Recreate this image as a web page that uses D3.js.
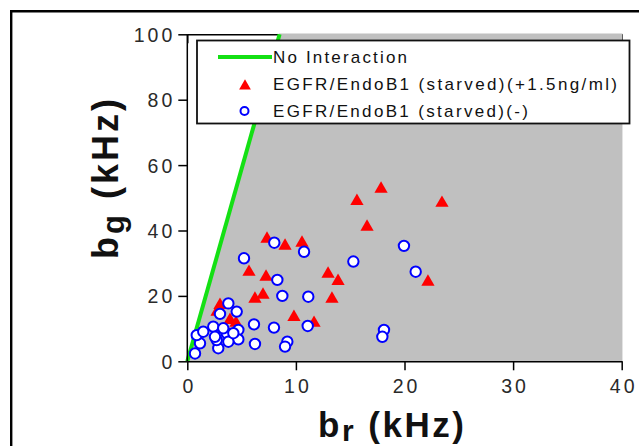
<!DOCTYPE html>
<html>
<head>
<meta charset="utf-8">
<script src="https://cdn.jsdelivr.net/npm/d3@7"></script>
<style>
  html, body { margin: 0; padding: 0; background: #fff; }
  svg { display: block; }
  text { font-family: "Liberation Sans", Arial, sans-serif; }
</style>
</head>
<body>
<svg id="chart" width="639" height="446"></svg>
<script>
// Axis ticks
const xMajorTicks = [0, 10, 20, 30, 40];
const xMinorTicks = [5, 15, 25, 35];
const yMajorTicks = [0, 20, 40, 60, 80, 100];
const yMinorTicks = [10, 30, 50, 70, 90];

// "No Interaction" reference line (b_r, b_g)
const noInteractionX = [0, 8.5];
const noInteractionY = [0, 100];

// EGFR/EndoB1 (starved)(+1.5ng/ml)
const stimX = [17.84, 15.62, 23.45, 16.55, 7.34, 9.0, 10.56, 5.68, 7.25, 12.96, 13.88,
               22.16, 6.23, 6.97, 13.32, 9.82, 11.67, 3.01, 2.74, 3.93, 4.48];
const stimY = [52.7, 49.0, 48.4, 41.1, 37.4, 35.3, 36.2, 27.3, 25.8, 26.7, 24.5,
               24.3, 19.05, 20.3, 19.05, 13.5, 11.7, 17.2, 15.1, 12.6, 11.7];

// EGFR/EndoB1 (starved)(-)
const ctrlX = [8.01, 10.75, 19.95, 5.22, 15.29, 21.03, 8.29, 8.75, 11.14, 3.78, 4.55,
               3.01, 6.14, 7.98, 11.09, 18.11, 17.96, 6.23, 9.21, 9.0, 4.7, 4.7, 3.63,
               3.78, 2.85, 2.71, 2.39, 2.55, 1.17, 0.87, 0.71, 1.47, 3.31, 4.24];
const ctrlY = [36.27, 33.5, 35.3, 31.5, 30.5, 27.4, 24.9, 20.0, 19.75, 17.7, 15.2,
               14.5, 11.3, 10.3, 10.8, 9.6, 7.5, 5.3, 6.0, 4.5, 9.6, 6.7, 8.6,
               6.0, 4.0, 6.5, 10.6, 7.5, 5.5, 8.0, 2.4, 9.05, 10.1, 8.6];

const legendLabels = ["No Interaction", "EGFR/EndoB1 (starved)(+1.5ng/ml)", "EGFR/EndoB1 (starved)(-)"];

const svg = d3.select("#chart");
const x = d3.scaleLinear().domain([0, 40]).range([187.3, 621.7]);
const y = d3.scaleLinear().domain([0, 100]).range([361.3, 34.3]);

// outer frame (left and top edges in view)
svg.append("path")
  .attr("d", "M11.2,446 L11.2,11.2 L639,11.2")
  .attr("fill", "none").attr("stroke", "#000").attr("stroke-width", 2.4);

// mirrored top axis with inward ticks
const topAxis = svg.append("g").attr("transform", `translate(0,${y(100)})`);
topAxis.call(d3.axisTop(x).tickValues(xMinorTicks).tickSize(-5).tickFormat("").tickSizeOuter(0));
topAxis.call(d3.axisTop(x).tickValues(xMajorTicks).tickSize(-9).tickFormat("").tickSizeOuter(0));
topAxis.selectAll("path,line").attr("stroke", "#000").attr("stroke-width", 1.5);

// shaded region right of the no-interaction line
const region = [[noInteractionX[0], noInteractionY[0]], [noInteractionX[1], noInteractionY[1]], [40, 100], [40, 0]];
svg.append("path")
  .attr("d", d3.line().x(d => x(d[0])).y(d => y(d[1]))(region) + "Z")
  .attr("fill", "#c0c0c0").attr("stroke", "#c0c0c0").attr("stroke-width", 1.5);

// no-interaction line
svg.append("path")
  .attr("d", d3.line().x(d => x(d[0])).y(d => y(d[1]))(noInteractionX.map((v, i) => [v, noInteractionY[i]])))
  .attr("fill", "none").attr("stroke", "#14e014").attr("stroke-width", 4);

// bottom axis
const bottom = svg.append("g").attr("transform", `translate(0,${y(0)})`);
bottom.call(d3.axisBottom(x).tickValues(xMinorTicks).tickSize(4.5).tickFormat("").tickSizeOuter(0));
bottom.call(d3.axisBottom(x).tickValues(xMajorTicks).tickSize(9).tickFormat(d3.format("d")).tickSizeOuter(0));
bottom.selectAll("path,line").attr("stroke", "#000").attr("stroke-width", 1.5);
bottom.selectAll("text")
  .attr("y", 32).attr("dy", 0).attr("dx", 1.5)
  .attr("font-size", 19.5).attr("letter-spacing", 3).attr("fill", "#2a2a2a")
  .attr("font-family", "'Liberation Sans', Arial, sans-serif");

// left axis
const left = svg.append("g").attr("transform", `translate(${x(0)},0)`);
left.call(d3.axisLeft(y).tickValues(yMinorTicks).tickSize(4.5).tickFormat("").tickSizeOuter(0));
left.call(d3.axisLeft(y).tickValues(yMajorTicks).tickSize(9).tickFormat(d3.format("d")).tickSizeOuter(0));
left.selectAll("path,line").attr("stroke", "#000").attr("stroke-width", 1.5);
left.selectAll("text")
  .attr("x", -12).attr("dy", "0.36em")
  .attr("font-size", 19.5).attr("letter-spacing", 3).attr("fill", "#2a2a2a")
  .attr("font-family", "'Liberation Sans', Arial, sans-serif");
left.select(".domain").attr("d", `M0,${y(0)}V${y(100)}`);

// data points
const tri = d3.symbol().type(d3.symbolTriangle).size(76);
svg.append("g").selectAll("path")
  .data(stimX.map((v, i) => [v, stimY[i]]))
  .join("path")
  .attr("d", tri)
  .attr("transform", d => `translate(${x(d[0])},${y(d[1])})`)
  .attr("fill", "#ff0000");

svg.append("g").selectAll("circle")
  .data(ctrlX.map((v, i) => [v, ctrlY[i]]))
  .join("circle")
  .attr("cx", d => x(d[0])).attr("cy", d => y(d[1])).attr("r", 5.2)
  .attr("fill", "#fff").attr("stroke", "#0000ff").attr("stroke-width", 2);

// legend
const lg = svg.append("g");
lg.append("rect").attr("x", 197).attr("y", 40.5).attr("width", 432.5).attr("height", 83)
  .attr("fill", "#fff").attr("stroke", "#111").attr("stroke-width", 1.8);
lg.append("line").attr("x1", 218).attr("x2", 272).attr("y1", 57).attr("y2", 57)
  .attr("stroke", "#14e014").attr("stroke-width", 4);
lg.append("path").attr("d", d3.symbol().type(d3.symbolTriangle).size(60)())
  .attr("transform", "translate(245,86)").attr("fill", "#ff0000");
lg.append("circle").attr("cx", 244.5).attr("cy", 111).attr("r", 4)
  .attr("fill", "#fff").attr("stroke", "#0000ff").attr("stroke-width", 2);
const legendY = [63, 90, 117];
const legendW = [134, 344, 255];
legendLabels.forEach((t, i) => {
  lg.append("text").attr("x", 273).attr("y", legendY[i])
    .attr("font-size", 17).attr("fill", "#111")
    .attr("textLength", legendW[i]).attr("lengthAdjust", "spacing")
    .text(t);
});

// axis titles
const xt = svg.append("text").attr("x", 318).attr("y", 437)
  .attr("font-size", 35).attr("font-weight", "bold").attr("letter-spacing", 2.5).attr("fill", "#111");
xt.append("tspan").text("b");
xt.append("tspan").attr("font-size", 30).attr("dy", 4).text("r");
xt.append("tspan").attr("dy", -4).text(" (kHz)");

const yt = svg.append("text").attr("transform", "translate(118,259) rotate(-90)")
  .attr("font-size", 36).attr("font-weight", "bold").attr("letter-spacing", 3).attr("fill", "#111");
yt.append("tspan").text("b");
yt.append("tspan").attr("font-size", 31).attr("dy", 6).text("g");
yt.append("tspan").attr("dy", -6).text(" (kHz)");
</script>
</body>
</html>
